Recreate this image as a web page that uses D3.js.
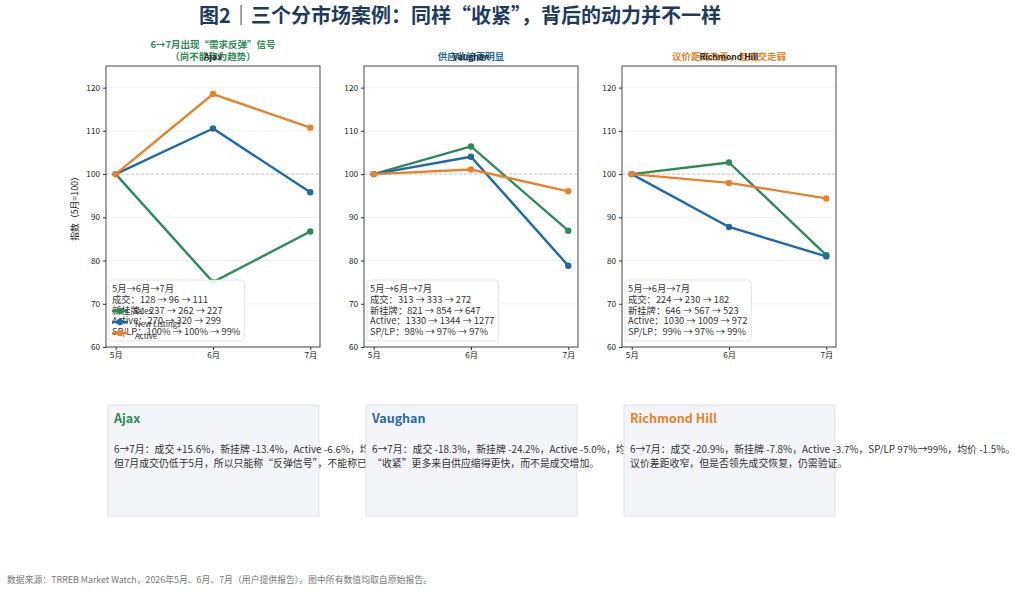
<!DOCTYPE html>
<html>
<head>
<meta charset="utf-8">
<script src="https://cdn.jsdelivr.net/npm/d3@7"></script>
<style>
  body { margin: 0; background: #fff; }
  text { font-family: "Noto Sans CJK SC", "Noto Sans", sans-serif; }
</style>
</head>
<body>
<svg id="chart" width="1024" height="592"></svg>
<script>
// ## data
var months = ["5月", "6月", "7月"];
var markets = ["Ajax", "Vaughan", "Richmond Hill"];
var sales = [[128, 96, 111], [313, 333, 272], [224, 230, 182]];
var newListings = [[237, 262, 227], [821, 854, 647], [646, 567, 523]];
var active = [[270, 320, 299], [1330, 1344, 1277], [1030, 1009, 972]];
var splp = [["100%", "100%", "99%"], ["98%", "97%", "97%"], ["99%", "97%", "99%"]];
var yTicks = [60, 70, 80, 90, 100, 110, 120];
var subtitles = [
    ["6→7月出现“需求反弹”信号", "（尚不能称为趋势）"],
    ["供应收缩更明显"],
    ["议价距离改善，但成交走弱"]
];
var cardLines = [
    ["6→7月：成交 +15.6%，新挂牌 -13.4%，Active -6.6%，均价 +2.1%。",
     "但7月成交仍低于5月，所以只能称“反弹信号”，不能称已进入趋势。"],
    ["6→7月：成交 -18.3%，新挂牌 -24.2%，Active -5.0%，均价 -2.4%。",
     "“收紧”更多来自供应缩得更快，而不是成交增加。"],
    ["6→7月：成交 -20.9%，新挂牌 -7.8%，Active -3.7%，SP/LP 97%→99%，均价 -1.5%。",
     "议价差距收窄，但是否领先成交恢复，仍需验证。"]
];

var seriesNames = ["Sales", "New Listings", "Active"];
var seriesColors = ["#2e8b57", "#1f6aa5", "#e8832a"];
var marketColors = ["#2e8b57", "#1f6aa5", "#e8832a"];

var svg = d3.select("#chart");
svg.append("rect").attr("width", 1024).attr("height", 592).attr("fill", "#fff");

//## main title
svg.append("text")
    .attr("x", 460).attr("y", 23)
    .attr("text-anchor", "middle")
    .attr("font-size", 20).attr("font-weight", "bold")
    .attr("fill", "#1f3b5c")
    .text("图2｜三个分市场案例：同样“收紧”，背后的动力并不一样");

var panelLeft = [106, 364, 622];
var panelW = 214, plotTop = 66, plotBottom = 347;

var y = d3.scaleLinear().domain([60, 125]).range([plotBottom, plotTop]);

function toIndex(arr) {
    return arr.map(function (v) { return v / arr[0] * 100; });
}

for (var p = 0; p < markets.length; p++) {
    var left = panelLeft[p];
    var x = d3.scaleLinear().domain([-0.1, 2.1]).range([left, left + panelW]);
    var g = svg.append("g");

    // grid
    g.selectAll(".grid").data(yTicks).enter().append("line")
        .attr("x1", left).attr("x2", left + panelW)
        .attr("y1", function (d) { return y(d); })
        .attr("y2", function (d) { return y(d); })
        .attr("stroke", "#ececec").attr("stroke-width", 0.7);

    // baseline 100
    g.append("line")
        .attr("x1", left).attr("x2", left + panelW)
        .attr("y1", y(100)).attr("y2", y(100))
        .attr("stroke", "#c4b4b4").attr("stroke-width", 0.8)
        .attr("stroke-dasharray", "3,2");

    // axes
    var yAxis = d3.axisLeft(y).tickValues(yTicks).tickSize(3).tickPadding(3);
    g.append("g").attr("transform", "translate(" + left + ",0)").call(yAxis)
        .call(function (a) {
            a.select(".domain").remove();
            a.selectAll("text").attr("font-size", 8.2).attr("fill", "#222")
                .attr("font-family", "Noto Sans CJK SC");
            a.selectAll("line").attr("stroke", "#333");
        });
    var xAxis = d3.axisBottom(x).tickValues([0, 1, 2])
        .tickFormat(function (d) { return months[d]; }).tickSize(3).tickPadding(2);
    g.append("g").attr("transform", "translate(0," + plotBottom + ")").call(xAxis)
        .call(function (a) {
            a.select(".domain").remove();
            a.selectAll("text").attr("font-size", 8.2).attr("fill", "#222")
                .attr("font-family", "Noto Sans CJK SC");
            a.selectAll("line").attr("stroke", "#333");
        });

    // series
    var series = [toIndex(sales[p]), toIndex(newListings[p]), toIndex(active[p])];
    var line = d3.line()
        .x(function (d, i) { return x(i); })
        .y(function (d) { return y(d); });
    series.forEach(function (s, k) {
        g.append("path").datum(s)
            .attr("d", line)
            .attr("fill", "none")
            .attr("stroke", seriesColors[k])
            .attr("stroke-width", 2.4)
            .attr("stroke-linejoin", "round");
        g.selectAll(".pt" + k).data(s).enter().append("circle")
            .attr("cx", function (d, i) { return x(i); })
            .attr("cy", function (d) { return y(d); })
            .attr("r", 3.2)
            .attr("fill", seriesColors[k]);
    });

    // frame
    g.append("rect")
        .attr("x", left).attr("y", plotTop)
        .attr("width", panelW).attr("height", plotBottom - plotTop)
        .attr("fill", "none").attr("stroke", "#333").attr("stroke-width", 0.9);

    // annotation box
    var notes = [
        months.join("→"),
        "成交：" + sales[p].join(" → "),
        "新挂牌：" + newListings[p].join(" → "),
        "Active：" + active[p].join(" → "),
        "SP/LP：" + splp[p].join(" → ")
    ];
    var box = g.append("rect")
        .attr("x", left + 3).attr("y", 280)
        .attr("height", 61).attr("rx", 3)
        .attr("fill", "#fff").attr("fill-opacity", 0.92)
        .attr("stroke", "#dcdcdc").attr("stroke-width", 0.8);
    var maxW = 0;
    notes.forEach(function (t, i) {
        var tx = g.append("text")
            .attr("x", left + 6).attr("y", 292 + i * 10.8)
            .attr("font-size", 9.3).attr("fill", "#333")
            .text(t);
        maxW = Math.max(maxW, tx.node().getComputedTextLength());
    });
    box.attr("width", maxW + 7);

    // subtitle + market name (overlapping as in the source)
    var sub = subtitles[p];
    sub.forEach(function (t, i) {
        g.append("text")
            .attr("x", left + panelW / 2)
            .attr("y", (sub.length == 2 ? 48 : 60) + i * 12)
            .attr("text-anchor", "middle")
            .attr("font-size", 9.5).attr("font-weight", "bold")
            .attr("fill", marketColors[p])
            .text(t);
    });
    g.append("text")
        .attr("x", left + panelW / 2).attr("y", 60)
        .attr("text-anchor", "middle")
        .attr("font-size", 8.5).attr("font-weight", "bold")
        .attr("fill", "#2b2b2b")
        .text(markets[p]);

    if (p == 0) {
        // y label
        g.append("text")
            .attr("transform", "translate(78," + ((plotTop + plotBottom) / 2) + ") rotate(-90)")
            .attr("text-anchor", "middle")
            .attr("font-size", 8.8).attr("fill", "#222")
            .text("指数（5月=100）");

        // legend
        var leg = g.selectAll(".legend").data(seriesNames).enter().append("g")
            .attr("transform", function (d, i) {
                return "translate(" + (left + 6) + "," + (311 + i * 11) + ")";
            });
        leg.append("line")
            .attr("x1", 0).attr("x2", 16)
            .attr("stroke", function (d, i) { return seriesColors[i]; })
            .attr("stroke-width", 2.4);
        leg.append("circle")
            .attr("cx", 8).attr("r", 3.2)
            .attr("fill", function (d, i) { return seriesColors[i]; });
        leg.append("text")
            .attr("x", function (d, i) { return i == 0 ? 21 : 23; })
            .attr("y", function (d, i) { return 3 + i * 1.5; })
            .attr("font-size", 7.8).attr("fill", "#222")
            .text(function (d) { return d; });
    }
}

//## cards
for (var c = 0; c < markets.length; c++) {
    var cx = panelLeft[c] + 2;
    svg.append("rect")
        .attr("x", cx).attr("y", 405)
        .attr("width", 211).attr("height", 111)
        .attr("fill", "#f4f5f8").attr("stroke", "#d9dde2").attr("stroke-width", 0.8);
    svg.append("text")
        .attr("x", cx + 6).attr("y", 423)
        .attr("font-size", 12.5).attr("font-weight", "bold")
        .attr("fill", marketColors[c])
        .text(markets[c]);
    cardLines[c].forEach(function (t, i) {
        svg.append("text")
            .attr("x", cx + 6).attr("y", 453 + i * 14)
            .attr("font-size", 9.9).attr("fill", "#333")
            .text(t);
    });
}

//## footer
svg.append("text")
    .attr("x", 7).attr("y", 583)
    .attr("font-size", 8.85).attr("fill", "#777")
    .text("数据来源：TRREB Market Watch，2026年5月、6月、7月（用户提供报告）。图中所有数值均取自原始报告。");
</script>
</body>
</html>
